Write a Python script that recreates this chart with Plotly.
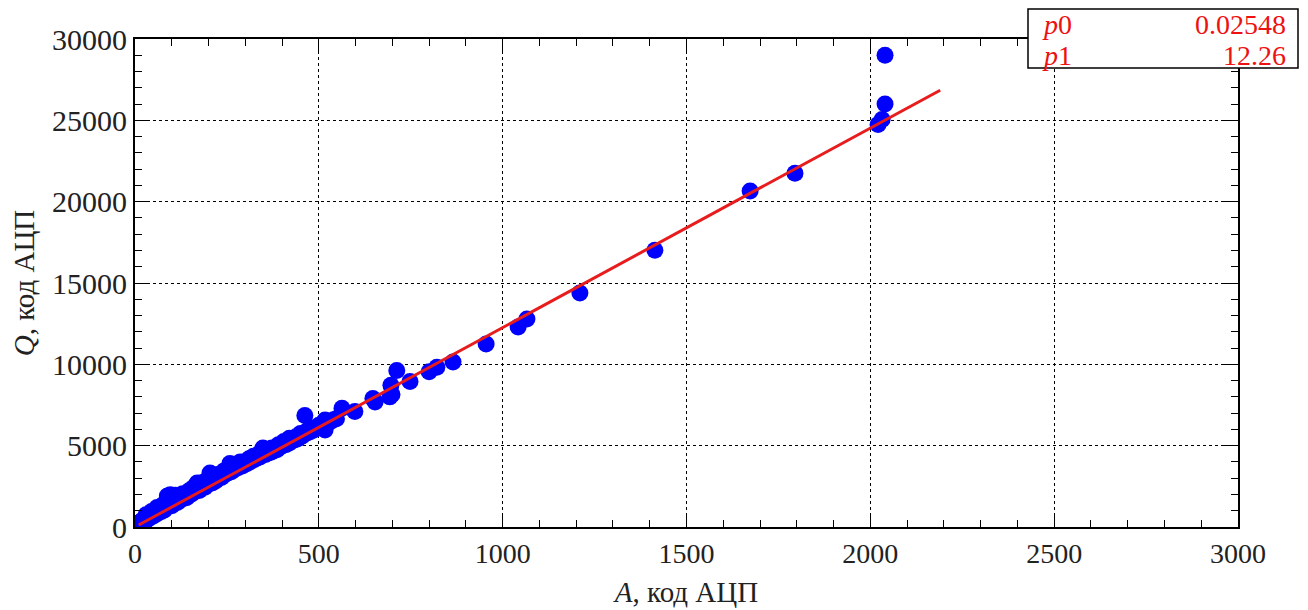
import plotly.graph_objects as go

# Measured points: A (ADC code) vs Q (ADC code)
A_vals = [3, 5, 8, 10, 12, 15, 18, 20, 22, 25, 28, 30, 33, 36, 40, 43, 46, 50, 53, 56,
          60, 64, 68, 72, 76, 80, 85, 88, 92, 96, 100, 105, 110, 115, 120, 125, 130, 135,
          140, 145, 150, 155, 160, 165, 169, 175, 180, 185, 190, 195, 200, 204, 210, 215,
          220, 225, 230, 235, 240, 245, 250, 255, 258, 262, 268, 274, 280, 286, 292, 298,
          305, 312, 318, 325, 332, 340, 348, 355, 362, 370, 378, 386, 394, 402, 410, 418,
          425, 432, 440, 448, 455, 462, 468, 476, 485, 495, 505, 517, 517, 530, 540, 548,
          563, 598, 653, 647, 693, 696, 699, 712, 748, 800, 821, 865, 955, 1042, 1066,
          1210, 1414, 1673, 1795, 2021, 2032, 2040, 2040,
          30, 45, 60, 75, 90, 105, 118, 130, 148, 160, 178, 190, 215, 228, 242, 265, 272,
          295, 310, 322, 335, 345, 360, 372, 390, 405, 420, 438, 450, 470, 480, 500, 525]
Q_vals = [60, 150, 120, 250, 180, 300, 260, 420, 300, 380, 520, 400, 470, 600, 560, 640,
          720, 680, 780, 900, 820, 900, 1050, 950, 1100, 1040, 1200, 1900, 1350, 1980,
          1300, 1450, 1950, 1500, 1600, 1700, 1750, 1850, 1800, 1900, 2000, 2050, 2150,
          2300, 2700, 2250, 2400, 2500, 2450, 2600, 2650, 3320, 2700, 2800, 2850, 3000,
          3100, 3050, 3150, 3250, 3300, 3350, 3900, 3400, 3500, 3600, 3650, 4000, 3750,
          3850, 3900, 4000, 4100, 4150, 4250, 4300, 4850, 4450, 4550, 4600, 4700, 4750,
          4900, 5100, 5050, 5150, 5250, 5350, 5400, 5500, 5600, 6850, 5780, 5850, 5950,
          6100, 6200, 6580, 5960, 6450, 6600, 6650, 7300, 7100, 7680, 7900, 8000, 8720,
          8150, 9620, 8950, 9550, 9820, 10150, 11250, 12300, 12780, 14380, 17020, 20650,
          21750, 24750, 25050, 26000, 29000,
          750, 950, 1200, 1350, 1650, 1850, 1950, 2050, 2250, 2450, 2700, 2800, 3050, 3250,
          3450, 3700, 3850, 4000, 4200, 4350, 4450, 4650, 4750, 4850, 5050, 5250, 5450,
          5550, 5750, 5950, 6050, 6250, 6450]

# Linear fit parameters (Q = p0 + p1 * A)
p0 = 0.02548
p1 = 12.26
fit_range = [10, 2190]

x_ticks = [0, 500, 1000, 1500, 2000, 2500, 3000]
y_ticks = [0, 5000, 10000, 15000, 20000, 25000, 30000]

fit_x = fit_range
fit_y = [p0 + p1 * v for v in fit_range]

SERIF = "Liberation Serif"
TXT = "#222222"

# page body has an 8px margin; plot frame in screen px: x 135..1238, y 39..527
L, R, T, B = 127, 70, 31, 83
W, H = 1300, 602
PX0, PX1, PY0, PY1 = 135, 1238, 39, 527


def px(xs):
    return (xs - PX0) / (PX1 - PX0)


def py(ys):
    return (PY1 - ys) / (PY1 - PY0)


fig = go.Figure()
fig.add_trace(go.Scatter(
    x=A_vals, y=Q_vals, mode="markers",
    marker=dict(color="#0000ff", size=17, line=dict(width=0)),
    showlegend=False,
))
fig.add_trace(go.Scatter(
    x=fit_x, y=fit_y, mode="lines",
    line=dict(color="#e81c1c", width=3),
    showlegend=False,
))

fig.update_layout(
    width=W, height=H,
    margin=dict(l=L, r=R, t=T, b=B),
    paper_bgcolor="white", plot_bgcolor="white",
    font=dict(family=SERIF, color=TXT),
    xaxis=dict(
        range=[0, 3000], tickvals=x_ticks, ticktext=[str(v) for v in x_ticks],
        ticks="inside", ticklen=14, tickcolor="black", tickwidth=1,
        minor=dict(ticks="inside", dtick=100, ticklen=7, tickcolor="black", showgrid=False),
        showline=True, linecolor="black", linewidth=2, mirror="allticks",
        showgrid=True, gridcolor="black", griddash="dot", gridwidth=1,
        zeroline=False, automargin=False,
        tickfont=dict(family=SERIF, size=28, color=TXT),
        title=dict(text="<i>A</i>, код АЦП", font=dict(family=SERIF, size=29, color=TXT), standoff=14),
    ),
    yaxis=dict(
        range=[0, 30000], tickvals=y_ticks, ticktext=[str(v) for v in y_ticks],
        ticks="inside", ticklen=14, tickcolor="black", tickwidth=1,
        minor=dict(ticks="inside", dtick=1000, ticklen=7, tickcolor="black", showgrid=False),
        showline=True, linecolor="black", linewidth=2, mirror="allticks",
        showgrid=True, gridcolor="black", griddash="dot", gridwidth=1,
        zeroline=False, automargin=False,
        tickfont=dict(family=SERIF, size=30, color=TXT),
        title=dict(text="<i>Q</i>, код АЦП", font=dict(family=SERIF, size=29, color=TXT), standoff=12),
    ),
)

# Fit statistics box (top right)
fig.add_shape(type="rect", xref="paper", yref="paper",
              x0=px(1028), x1=px(1298), y0=py(68), y1=py(9),
              line=dict(color="black", width=1.5), fillcolor="white", layer="above")
rows = [("<i>p</i>0", f"{p0:.5f}"), ("<i>p</i>1", f"{p1:.2f}")]
for i, (name, val) in enumerate(rows):
    yc = py(25 + 30 * i)
    fig.add_annotation(xref="paper", yref="paper", x=px(1040), y=yc,
                       text=name, showarrow=False, xanchor="left", yanchor="middle",
                       font=dict(family=SERIF, size=28, color="#ee1111"))
    fig.add_annotation(xref="paper", yref="paper", x=px(1288), y=yc,
                       text=val, showarrow=False, xanchor="right", yanchor="middle",
                       font=dict(family=SERIF, size=28, color="#ee1111"))

fig.write_html("out.html")
